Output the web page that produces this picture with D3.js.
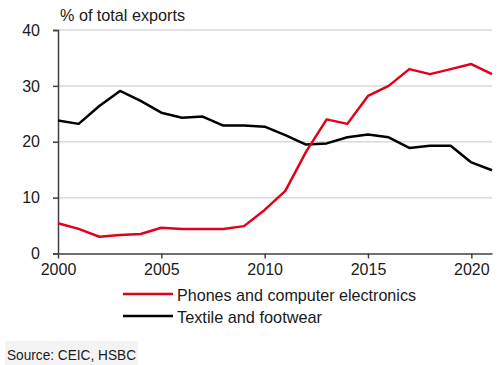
<!DOCTYPE html>
<html>
<head>
<meta charset="utf-8">
<script src="https://cdn.jsdelivr.net/npm/d3@7"></script>
<style>
  body { margin: 0; background: #fff; }
  svg text { font-family: "Liberation Sans", Arial, sans-serif; fill: #1a1a1a; }
</style>
</head>
<body>
<div id="chart"></div>
<script>
// values (% of total exports)
var years = d3.range(2000, 2022);
var phones = [5.4, 4.4, 3.0, 3.3, 3.5, 4.6, 4.4, 4.4, 4.4, 4.9, 7.8, 11.2, 18.2, 24.0, 23.2, 28.2, 30.0, 33.0, 32.1, 33.0, 33.9, 32.1];
var textile = [23.8, 23.2, 26.4, 29.1, 27.3, 25.2, 24.3, 24.5, 22.9, 22.9, 22.7, 21.2, 19.5, 19.7, 20.8, 21.3, 20.8, 18.9, 19.3, 19.3, 16.3, 14.9];
var yTicks = [0, 10, 20, 30, 40];
var xTicks = [2000, 2005, 2010, 2015, 2020];
var seriesNames = ["Phones and computer electronics", "Textile and footwear"];
var seriesColors = ["#e2001a", "#000000"];
var legendWidths = [239, 145];

var W = 500, H = 365;
var margin = { top: 30, left: 58 },
    width = 492 - margin.left,
    height = 253.5 - margin.top;

var svg = d3.select("#chart")
    .append("svg")
    .attr("width", W)
    .attr("height", H);

var g = svg.append("g")
    .attr("transform", "translate(" + margin.left + "," + margin.top + ")");

var x = d3.scaleLinear().domain([2000, 2021]).range([0, width]);
var y = d3.scaleLinear().domain([0, 40]).range([height, 0]);

// gridlines
g.append("g")
    .selectAll("line")
    .data(yTicks.filter(function(d) { return d > 0; }))
    .enter().append("line")
    .attr("x1", 0)
    .attr("x2", width)
    .attr("y1", function(d) { return y(d); })
    .attr("y2", function(d) { return y(d); })
    .attr("stroke", "#d9d9d9")
    .attr("stroke-width", 1.5);

// y axis
var yAxis = g.append("g")
    .call(d3.axisLeft(y).tickValues(yTicks).tickSize(5).tickPadding(13));
yAxis.select(".domain").attr("stroke", "#404040").attr("stroke-width", 1.5);
yAxis.selectAll(".tick line").attr("stroke", "#404040").attr("stroke-width", 1.5);
yAxis.selectAll("text").style("font-size", "16px").attr("fill", "#1a1a1a");

// x axis
var xAxis = g.append("g")
    .attr("transform", "translate(0," + height + ")")
    .call(d3.axisBottom(x).tickValues(xTicks).tickFormat(d3.format("d")).tickSize(5).tickSizeOuter(0).tickPadding(5));
xAxis.select(".domain").attr("stroke", "#404040").attr("stroke-width", 1.5);
xAxis.selectAll(".tick line").attr("stroke", "#404040").attr("stroke-width", 1.5);
xAxis.selectAll("text").style("font-size", "16px").attr("fill", "#1a1a1a");

// lines
var line = d3.line()
    .x(function(d, i) { return x(years[i]); })
    .y(function(d) { return y(d); });

g.append("path")
    .datum(textile)
    .attr("fill", "none")
    .attr("stroke", seriesColors[1])
    .attr("stroke-width", 2.5)
    .attr("stroke-linejoin", "round")
    .attr("d", line);

g.append("path")
    .datum(phones)
    .attr("fill", "none")
    .attr("stroke", seriesColors[0])
    .attr("stroke-width", 2.5)
    .attr("stroke-linejoin", "round")
    .attr("d", line);

// title
svg.append("text")
    .attr("x", 60)
    .attr("y", 21)
    .style("font-size", "17px")
    .attr("textLength", 125)
    .attr("lengthAdjust", "spacingAndGlyphs")
    .text("% of total  exports");

// legend
var legend = svg.append("g")
    .selectAll("g")
    .data(seriesNames)
    .enter().append("g")
    .attr("transform", function(d, i) { return "translate(123," + (294 + i * 22) + ")"; });
legend.append("line")
    .attr("x1", 0).attr("x2", 50)
    .attr("stroke", function(d, i) { return seriesColors[i]; })
    .attr("stroke-width", 2.5);
legend.append("text")
    .attr("x", 54)
    .attr("y", 6.5)
    .style("font-size", "17px")
    .attr("textLength", function(d, i) { return legendWidths[i]; })
    .attr("lengthAdjust", "spacingAndGlyphs")
    .text(function(d) { return d; });

// source
svg.append("rect")
    .attr("x", 5).attr("y", 341)
    .attr("width", 133).attr("height", 24)
    .attr("fill", "#f3f3f3");
svg.append("text")
    .attr("x", 7)
    .attr("y", 360)
    .style("font-size", "15px")
    .attr("textLength", 129)
    .attr("lengthAdjust", "spacingAndGlyphs")
    .text("Source: CEIC, HSBC");
</script>
</body>
</html>
